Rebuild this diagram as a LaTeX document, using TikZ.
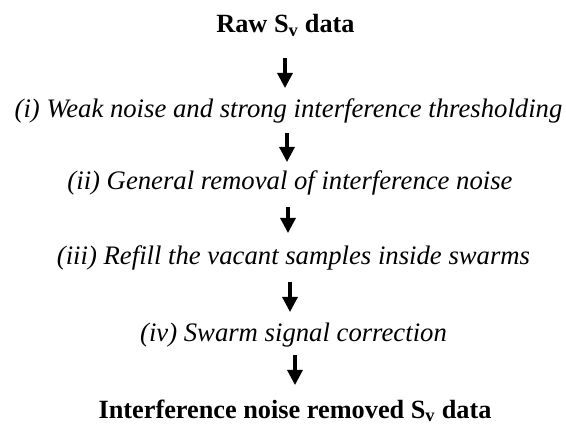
\documentclass[tikz,border=0pt]{standalone}
\usepackage{fontspec}
\setmainfont{Liberation Serif}
\usetikzlibrary{arrows.meta}
\begin{document}
\begin{tikzpicture}[x=1pt,y=1pt,
  lbl/.style={anchor=base,inner sep=0pt,font=\fontsize{26.7}{30}\selectfont\itshape},
  hdr/.style={anchor=base,inner sep=0pt,font=\fontsize{26.3}{30}\selectfont\bfseries},
  flow/.style={line width=3.2pt,-{Triangle[width=15pt,length=15pt]}}]
\useasboundingbox (0,0) rectangle (566,-425);
\node[hdr] (raw) at (285.5,-33) {Raw S\textsubscript{v} data};
\node[lbl] (s1) at (288.5,-118) {(i) Weak noise and strong interference thresholding};
\node[lbl] (s2) at (290,-190) {(ii) General removal of interference noise};
\node[lbl] (s3) at (293.5,-265) {(iii) Refill the vacant samples inside swarms};
\node[lbl] (s4) at (293.5,-342) {(iv) Swarm signal correction};
\node[hdr] (out) at (295,-418) {Interference noise removed S\textsubscript{v} data};
\draw[flow] ([xshift=-0.5pt,yshift=-25pt]raw.base) -- ([xshift=-0.5pt,yshift=30pt]raw.base |- s1.base);
\draw[flow] ([xshift=-1.5pt,yshift=-15pt]s1.base) -- ([xshift=-1.5pt,yshift=28pt]s1.base |- s2.base);
\draw[flow] ([xshift=-2pt,yshift=-17pt]s2.base) -- ([xshift=-2pt,yshift=32pt]s2.base |- s3.base);
\draw[flow] ([xshift=-3.5pt,yshift=-17pt]s3.base) -- ([xshift=-3.5pt,yshift=30pt]s3.base |- s4.base);
\draw[flow] ([xshift=1.5pt,yshift=-13pt]s4.base) -- ([xshift=1.5pt,yshift=33pt]s4.base |- out.base);
\end{tikzpicture}
\end{document}
